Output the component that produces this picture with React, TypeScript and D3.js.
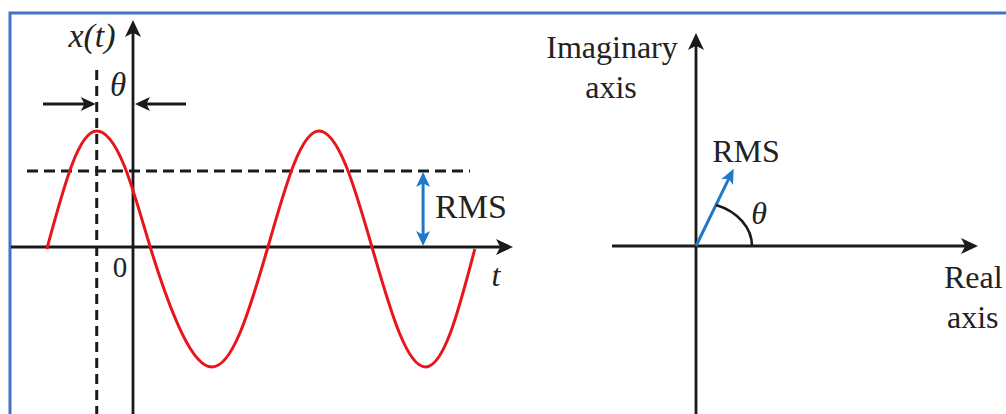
import React from "react";
import * as d3 from "d3";

const W = 1006;
const H = 414;

// waveform key points (t in degrees of phase, x(t) normalised)
const waveT = [-145, -103, -61, -15, 30, 82, 133, 180, 226, 270, 313, 358, 403, 448, 492, 534, 575];
const waveX = [0, 0.71, 1, 0.71, 0, -0.71, -1, -0.71, 0, 0.71, 1, 0.71, 0, -0.71, -1, -0.71, 0];
const rmsLevel = 0.66;
const thetaDeg = 61;
const rmsArrowT = 488;
const phasorAngleDeg = 64;
const phasorMag = 1;

const FONT = "'Liberation Serif', 'Times New Roman', Times, serif";
const RED = "#e8161b";
const BLUE = "#1f78c8";

function arrowHead(tipX: number, tipY: number, angleRad: number, len: number, width: number) {
  const bx = tipX - len * Math.cos(angleRad);
  const by = tipY - len * Math.sin(angleRad);
  const px = -Math.sin(angleRad) * (width / 2);
  const py = Math.cos(angleRad) * (width / 2);
  const nx = tipX - len * 0.75 * Math.cos(angleRad);
  const ny = tipY - len * 0.75 * Math.sin(angleRad);
  return `M${tipX},${tipY}L${bx + px},${by + py}L${nx},${ny}L${bx - px},${by - py}Z`;
}

const txt = (size: number, italic = false): React.CSSProperties => ({
  fontFamily: FONT,
  fontSize: size,
  fontStyle: italic ? "italic" : "normal",
});

export default function App() {
  const xL = d3.scaleLinear().domain([0, 360]).range([133, 347]);
  const yL = d3.scaleLinear().domain([-1, 1]).range([367, 131]);
  const y0 = 247;
  const x0 = xL(0);

  const pts: [number, number][] = waveT.map((t, i) => [t, waveX[i]]);
  const line = d3
    .line<[number, number]>()
    .x((d) => xL(d[0]))
    .y((d) => yL(d[1]))
    .curve(d3.curveNatural);

  const thetaX = xL(-thetaDeg);
  const rmsY = yL(rmsLevel);
  const rmsX = xL(rmsArrowT);

  const xR = d3.scaleLinear().domain([0, 1]).range([696, 782]);
  const yR = d3.scaleLinear().domain([0, 1]).range([246, 160]);
  const ox = xR(0);
  const oy = yR(0);
  const a = (phasorAngleDeg * Math.PI) / 180;
  const px = xR(phasorMag * Math.cos(a));
  const py = yR(phasorMag * Math.sin(a));
  const phAng = Math.atan2(py - oy, px - ox);

  const rx = 56;
  const ry = 44;
  const rArc = 1 / Math.sqrt((Math.cos(a) ** 2) / (rx * rx) + (Math.sin(a) ** 2) / (ry * ry));
  const arcEndX = ox + rArc * Math.cos(a);
  const arcEndY = oy - rArc * Math.sin(a);
  const arcPath = `M${ox + rx},${oy}A${rx},${ry} 0 0 0 ${arcEndX},${arcEndY}`;

  const axisW = 2.8;
  const ink = "#1a1a1a";

  return (
    <svg width={W} height={H} style={{ position: "absolute", left: 0, top: 0, background: "#fff" }}>
      <rect x={0} y={0} width={W} height={H} fill="#fff" />
      <rect x={10} y={13} width={1200} height={600} fill="none" stroke="#4472c4" strokeWidth={3} />

      {/* ===== left panel ===== */}
      <line x1={thetaX} y1={70} x2={thetaX} y2={H} stroke={ink} strokeWidth={3} strokeDasharray="10,6" />
      <line x1={27} y1={rmsY} x2={470} y2={rmsY} stroke={ink} strokeWidth={3} strokeDasharray="11,6" />

      <line x1={11} y1={y0} x2={505} y2={y0} stroke={ink} strokeWidth={axisW} />
      <path d={arrowHead(513, y0, 0, 17, 16)} fill={ink} />
      <line x1={x0} y1={H} x2={x0} y2={28} stroke={ink} strokeWidth={axisW} />
      <path d={arrowHead(x0, 20, -Math.PI / 2, 17, 16)} fill={ink} />

      <path d={line(pts) || ""} fill="none" stroke={RED} strokeWidth={3} />

      <line x1={43} y1={104} x2={thetaX - 8} y2={104} stroke={ink} strokeWidth={2.8} />
      <path d={arrowHead(thetaX - 1, 104, 0, 15, 14)} fill={ink} />
      <line x1={186} y1={104} x2={x0 + 10} y2={104} stroke={ink} strokeWidth={2.8} />
      <path d={arrowHead(x0 + 2, 104, Math.PI, 15, 14)} fill={ink} />

      <line x1={rmsX} y1={rmsY + 10} x2={rmsX} y2={y0 - 10} stroke={BLUE} strokeWidth={3} />
      <path d={arrowHead(rmsX, rmsY + 1, -Math.PI / 2, 15, 14)} fill={BLUE} />
      <path d={arrowHead(rmsX, y0 - 1, Math.PI / 2, 15, 14)} fill={BLUE} />

      <text x={92} y={47} style={txt(34, true)} textAnchor="middle" fill="#222">
        x(t)
      </text>
      <text x={118} y={96} style={txt(33, true)} textAnchor="middle" fill="#222">
        θ
      </text>
      <text x={120} y={277} style={txt(29)} textAnchor="middle" fill="#222">
        0
      </text>
      <text x={496} y={286} style={txt(32, true)} textAnchor="middle" fill="#222">
        t
      </text>
      <text x={435} y={218} style={txt(34)} fill="#222">
        RMS
      </text>

      {/* ===== right panel ===== */}
      <line x1={612} y1={oy} x2={970} y2={oy} stroke={ink} strokeWidth={axisW} />
      <path d={arrowHead(978, oy, 0, 17, 16)} fill={ink} />
      <line x1={ox} y1={H} x2={ox} y2={41} stroke={ink} strokeWidth={axisW} />
      <path d={arrowHead(ox, 33, -Math.PI / 2, 17, 16)} fill={ink} />

      <line
        x1={ox}
        y1={oy}
        x2={px - 10 * Math.cos(phAng)}
        y2={py - 10 * Math.sin(phAng)}
        stroke={BLUE}
        strokeWidth={3}
      />
      <path d={arrowHead(px, py, phAng, 15, 13)} fill={BLUE} />

      <path d={arcPath} fill="none" stroke={ink} strokeWidth={2.6} />

      <text x={612} y={58} style={txt(32)} textAnchor="middle" fill="#222">
        Imaginary
      </text>
      <text x={611} y={98} style={txt(32)} textAnchor="middle" fill="#222">
        axis
      </text>
      <text x={746} y={162} style={txt(32)} textAnchor="middle" fill="#222">
        RMS
      </text>
      <text x={759} y={224} style={txt(32, true)} textAnchor="middle" fill="#222">
        θ
      </text>
      <text x={944} y={288} style={txt(32)} fill="#222">
        Real
      </text>
      <text x={947} y={328} style={txt(32)} fill="#222">
        axis
      </text>
    </svg>
  );
}
